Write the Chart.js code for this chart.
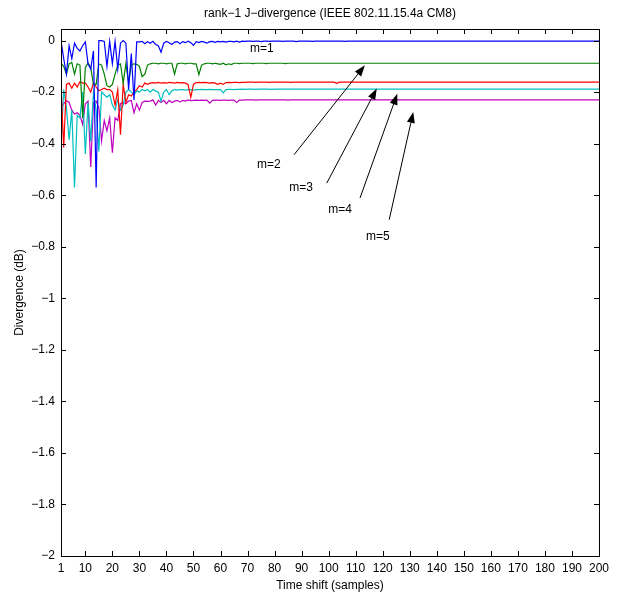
<!DOCTYPE html>
<html>
<head>
<meta charset="utf-8">
<title>rank-1 J-divergence</title>
<script src="https://cdn.jsdelivr.net/npm/chart.js@4.4.1/dist/chart.umd.min.js"></script>
<style>
  html, body { margin: 0; padding: 0; background: #fff; }
  canvas { display: block; }
</style>
</head>
<body>
<canvas id="divChart" width="619" height="600"></canvas>
<script>
// time shift in samples, one point per shift
const shifts = Array.from({ length: 200 }, (_, i) => i + 1);
const xTicks = [1, 10, 20, 30, 40, 50, 60, 70, 80, 90, 100, 110, 120, 130, 140, 150, 160, 170, 180, 190, 200];
const yTicks = [-2, -1.8, -1.6, -1.4, -1.2, -1, -0.8, -0.6, -0.4, -0.2, 0];

// divergence (dB) for m = 1..5
const m1 = [
  0, -0.07, -0.13, -0.02, -0.07, -0.01, -0.03, -0.04, -0.02, -0.005,
  -0.09, -0.11, -0.04, -0.57, 0, 0, -0.003, -0.1, -0.003, -0.09,
  -0.003, -0.11, -0.01, 0, -0.01, -0.19, -0.05, -0.23, -0.005, -0.005,
  -0.003, -0.012, -0.004, -0.01, -0.003, -0.015, -0.02, -0.045, -0.01, -0.003,
  -0.008, -0.015, -0.006, -0.004, -0.012, -0.004, -0.008, -0.002, -0.008, -0.018,
  -0.004, -0.008, -0.003, -0.006, -0.01, -0.004, -0.003, -0.007, -0.003, -0.005,
  -0.003, -0.006, -0.003, -0.003, -0.005, -0.002, -0.006, -0.002, -0.003, -0.002,
  -0.002, -0.003, -0.002, -0.002, -0.004, -0.002, -0.002, -0.003, -0.002, -0.002,
  -0.002, -0.002, -0.003, -0.002, -0.002, -0.002, -0.002, -0.004, -0.002, -0.002,
  -0.002, -0.002, -0.002, -0.003, -0.002, -0.002, -0.002, -0.002, -0.002, -0.002,
  -0.002, -0.002, -0.002, -0.002, -0.002, -0.003, -0.002, -0.002, -0.002, -0.002,
  -0.002, -0.002, -0.002, -0.002, -0.002, -0.002, -0.002, -0.002, -0.002, -0.002,
  -0.002, -0.002, -0.002, -0.002, -0.002, -0.002, -0.002, -0.002, -0.002, -0.002,
  -0.002, -0.002, -0.002, -0.002, -0.002, -0.002, -0.002, -0.002, -0.002, -0.002,
  -0.002, -0.002, -0.002, -0.002, -0.002, -0.002, -0.002, -0.002, -0.002, -0.002,
  -0.002, -0.002, -0.002, -0.002, -0.002, -0.002, -0.002, -0.002, -0.002, -0.002,
  -0.002, -0.002, -0.002, -0.002, -0.002, -0.002, -0.002, -0.002, -0.002, -0.002,
  -0.002, -0.002, -0.002, -0.002, -0.002, -0.002, -0.002, -0.002, -0.002, -0.002,
  -0.002, -0.002, -0.002, -0.002, -0.002, -0.002, -0.002, -0.002, -0.002, -0.002,
  -0.002, -0.002, -0.002, -0.002, -0.002, -0.002, -0.002, -0.002, -0.002, -0.002
];
const m2 = [
  -0.087, -0.1, -0.13, -0.09, -0.085, -0.13, -0.09, -0.095, -0.3, -0.105,
  -0.087, -0.105, -0.17, -0.17, -0.09, -0.095, -0.13, -0.175, -0.18, -0.17,
  -0.13, -0.095, -0.09, -0.165, -0.09, -0.16, -0.095, -0.09, -0.092, -0.1,
  -0.14, -0.13, -0.095, -0.09, -0.088, -0.088, -0.09, -0.088, -0.088, -0.09,
  -0.088, -0.088, -0.13, -0.09, -0.088, -0.088, -0.09, -0.088, -0.088, -0.09,
  -0.09, -0.132, -0.095, -0.09, -0.088, -0.088, -0.09, -0.088, -0.09, -0.092,
  -0.088, -0.094, -0.09, -0.093, -0.088, -0.088, -0.089, -0.088, -0.088, -0.088,
  -0.088, -0.089, -0.088, -0.088, -0.088, -0.088, -0.089, -0.088, -0.088, -0.088,
  -0.088, -0.088, -0.088, -0.089, -0.088, -0.088, -0.088, -0.088, -0.088, -0.088,
  -0.088, -0.088, -0.088, -0.088, -0.088, -0.088, -0.088, -0.088, -0.088, -0.088,
  -0.088, -0.088, -0.088, -0.088, -0.088, -0.088, -0.088, -0.088, -0.088, -0.088,
  -0.088, -0.088, -0.088, -0.088, -0.088, -0.088, -0.088, -0.088, -0.088, -0.088,
  -0.088, -0.088, -0.088, -0.088, -0.088, -0.088, -0.088, -0.088, -0.088, -0.088,
  -0.088, -0.088, -0.088, -0.088, -0.088, -0.088, -0.088, -0.088, -0.088, -0.088,
  -0.088, -0.088, -0.088, -0.088, -0.088, -0.088, -0.088, -0.088, -0.088, -0.088,
  -0.088, -0.088, -0.088, -0.088, -0.088, -0.088, -0.088, -0.088, -0.088, -0.088,
  -0.088, -0.088, -0.088, -0.088, -0.088, -0.088, -0.088, -0.088, -0.088, -0.088,
  -0.088, -0.088, -0.088, -0.088, -0.088, -0.088, -0.088, -0.088, -0.088, -0.088,
  -0.088, -0.088, -0.088, -0.088, -0.088, -0.088, -0.088, -0.088, -0.088, -0.088,
  -0.088, -0.088, -0.088, -0.088, -0.088, -0.088, -0.088, -0.088, -0.088, -0.088
];
const m3 = [
  -0.17, -0.415, -0.17, -0.165, -0.185, -0.165, -0.18, -0.16, -0.165, -0.165,
  -0.18, -0.2, -0.165, -0.18, -0.195, -0.19, -0.185, -0.19, -0.19, -0.2,
  -0.25, -0.19, -0.365, -0.17, -0.24, -0.21, -0.215, -0.2, -0.19, -0.175,
  -0.18, -0.165, -0.17, -0.165, -0.163, -0.165, -0.162, -0.165, -0.163, -0.165,
  -0.162, -0.163, -0.165, -0.162, -0.164, -0.163, -0.165, -0.17, -0.22, -0.17,
  -0.163, -0.162, -0.163, -0.162, -0.163, -0.165, -0.163, -0.165, -0.17, -0.165,
  -0.17, -0.163, -0.162, -0.163, -0.162, -0.162, -0.163, -0.162, -0.162, -0.161,
  -0.161, -0.161, -0.162, -0.161, -0.161, -0.161, -0.161, -0.162, -0.161, -0.161,
  -0.161, -0.161, -0.161, -0.161, -0.161, -0.162, -0.161, -0.161, -0.161, -0.161,
  -0.161, -0.161, -0.161, -0.161, -0.161, -0.161, -0.161, -0.161, -0.161, -0.161,
  -0.161, -0.161, -0.166, -0.161, -0.161, -0.161, -0.161, -0.161, -0.161, -0.161,
  -0.161, -0.161, -0.161, -0.161, -0.161, -0.161, -0.161, -0.161, -0.161, -0.161,
  -0.161, -0.161, -0.161, -0.161, -0.161, -0.161, -0.161, -0.161, -0.161, -0.161,
  -0.161, -0.161, -0.161, -0.161, -0.161, -0.161, -0.161, -0.161, -0.161, -0.161,
  -0.161, -0.161, -0.161, -0.161, -0.161, -0.161, -0.161, -0.161, -0.161, -0.161,
  -0.161, -0.161, -0.161, -0.161, -0.161, -0.161, -0.161, -0.161, -0.161, -0.161,
  -0.161, -0.161, -0.161, -0.161, -0.161, -0.161, -0.161, -0.161, -0.161, -0.161,
  -0.161, -0.161, -0.161, -0.161, -0.161, -0.161, -0.161, -0.161, -0.161, -0.161,
  -0.161, -0.161, -0.161, -0.161, -0.161, -0.161, -0.161, -0.161, -0.161, -0.161,
  -0.161, -0.161, -0.161, -0.161, -0.161, -0.161, -0.161, -0.161, -0.161, -0.161
];
const m4 = [
  -0.42, -0.19, -0.26, -0.385, -0.27, -0.57, -0.29, -0.3, -0.2, -0.44,
  -0.24, -0.39, -0.2, -0.27, -0.43, -0.2, -0.21, -0.22, -0.21, -0.25,
  -0.27, -0.23, -0.27, -0.25, -0.2, -0.19, -0.2, -0.21, -0.195, -0.2,
  -0.19, -0.195, -0.19, -0.2, -0.19, -0.195, -0.2, -0.235, -0.2, -0.19,
  -0.21, -0.195, -0.19, -0.192, -0.19, -0.19, -0.192, -0.19, -0.19, -0.192,
  -0.19, -0.19, -0.189, -0.19, -0.19, -0.189, -0.19, -0.19, -0.19, -0.19,
  -0.203, -0.19, -0.189, -0.189, -0.19, -0.189, -0.189, -0.188, -0.189, -0.188,
  -0.188, -0.188, -0.189, -0.188, -0.188, -0.188, -0.188, -0.188, -0.189, -0.188,
  -0.188, -0.188, -0.188, -0.188, -0.188, -0.188, -0.188, -0.188, -0.188, -0.188,
  -0.188, -0.188, -0.188, -0.188, -0.188, -0.188, -0.188, -0.188, -0.188, -0.188,
  -0.188, -0.188, -0.188, -0.188, -0.188, -0.188, -0.188, -0.188, -0.188, -0.188,
  -0.188, -0.188, -0.188, -0.188, -0.188, -0.188, -0.188, -0.188, -0.188, -0.188,
  -0.188, -0.188, -0.188, -0.188, -0.188, -0.188, -0.188, -0.188, -0.188, -0.188,
  -0.188, -0.188, -0.188, -0.188, -0.188, -0.188, -0.188, -0.188, -0.188, -0.188,
  -0.188, -0.188, -0.188, -0.188, -0.188, -0.188, -0.188, -0.188, -0.188, -0.188,
  -0.188, -0.188, -0.188, -0.188, -0.188, -0.188, -0.188, -0.188, -0.188, -0.188,
  -0.188, -0.188, -0.188, -0.188, -0.188, -0.188, -0.188, -0.188, -0.188, -0.188,
  -0.188, -0.188, -0.188, -0.188, -0.188, -0.188, -0.188, -0.188, -0.188, -0.188,
  -0.188, -0.188, -0.188, -0.188, -0.188, -0.188, -0.188, -0.188, -0.188, -0.188,
  -0.188, -0.188, -0.188, -0.188, -0.188, -0.188, -0.188, -0.188, -0.188, -0.188
];
const m5 = [
  -0.26, -0.245, -0.233, -0.24, -0.27, -0.285, -0.28, -0.29, -0.325, -0.245,
  -0.235, -0.49, -0.24, -0.235, -0.26, -0.39, -0.31, -0.35, -0.3, -0.435,
  -0.3, -0.31, -0.245, -0.24, -0.245, -0.235, -0.232, -0.28, -0.245, -0.27,
  -0.24, -0.235, -0.236, -0.235, -0.23, -0.25, -0.232, -0.24, -0.232, -0.245,
  -0.232, -0.24, -0.235, -0.232, -0.238, -0.232, -0.235, -0.23, -0.233, -0.232,
  -0.231, -0.232, -0.231, -0.232, -0.231, -0.243, -0.232, -0.231, -0.231, -0.232,
  -0.231, -0.231, -0.232, -0.231, -0.231, -0.24, -0.231, -0.231, -0.23, -0.23,
  -0.23, -0.23, -0.231, -0.23, -0.23, -0.23, -0.23, -0.23, -0.23, -0.23,
  -0.23, -0.23, -0.23, -0.23, -0.231, -0.23, -0.23, -0.23, -0.23, -0.23,
  -0.23, -0.23, -0.23, -0.23, -0.23, -0.23, -0.23, -0.23, -0.23, -0.23,
  -0.23, -0.23, -0.23, -0.23, -0.23, -0.23, -0.23, -0.23, -0.23, -0.23,
  -0.23, -0.23, -0.23, -0.23, -0.23, -0.23, -0.23, -0.23, -0.23, -0.23,
  -0.23, -0.23, -0.23, -0.23, -0.23, -0.23, -0.23, -0.23, -0.23, -0.23,
  -0.23, -0.23, -0.23, -0.23, -0.23, -0.23, -0.23, -0.23, -0.23, -0.23,
  -0.23, -0.23, -0.23, -0.23, -0.23, -0.23, -0.23, -0.23, -0.23, -0.23,
  -0.23, -0.23, -0.23, -0.23, -0.23, -0.23, -0.23, -0.23, -0.23, -0.23,
  -0.23, -0.23, -0.23, -0.23, -0.23, -0.23, -0.23, -0.23, -0.23, -0.23,
  -0.23, -0.23, -0.23, -0.23, -0.23, -0.23, -0.23, -0.23, -0.23, -0.23,
  -0.23, -0.23, -0.23, -0.23, -0.23, -0.23, -0.23, -0.23, -0.23, -0.23,
  -0.23, -0.23, -0.23, -0.23, -0.23, -0.23, -0.23, -0.23, -0.23, -0.23
];

const seriesNames = ['m=1', 'm=2', 'm=3', 'm=4', 'm=5'];
const seriesValues = [m1, m2, m3, m4, m5];
const seriesColors = ['#0000ff', '#008000', '#ff0000', '#00bfbf', '#bf00bf'];

// text labels and arrows, in data coordinates
const notes = [
  { text: 'm=1', at: [75.3, -0.031] },
  { text: 'm=2', at: [77.9, -0.482], from: [87.2, -0.443], to: [113.4, -0.096] },
  { text: 'm=3', at: [89.8, -0.571], from: [99.3, -0.553], to: [117.8, -0.186] },
  { text: 'm=4', at: [104.2, -0.656], from: [111.6, -0.611], to: [125.4, -0.206] },
  { text: 'm=5', at: [118.2, -0.761], from: [122.4, -0.695], to: [131.3, -0.277] }
];

const FONT = '"Liberation Sans", Arial, Helvetica, sans-serif';
Chart.defaults.font.family = FONT;
Chart.defaults.font.size = 12;
Chart.defaults.color = '#000';

// box around the axes with inward ticks on all four sides, plus the m= notes
const axesBox = {
  id: 'axesBox',
  afterDraw(chart) {
    const { ctx, chartArea: a, scales: { x, y } } = chart;
    const tick = 5;
    ctx.save();
    ctx.strokeStyle = '#000';
    ctx.lineWidth = 1;
    ctx.strokeRect(a.left + 0.5, a.top + 0.5, a.right - a.left, a.bottom - a.top);
    ctx.beginPath();
    x.ticks.forEach(t => {
      const px = Math.round(x.getPixelForValue(t.value)) + 0.5;
      ctx.moveTo(px, a.bottom); ctx.lineTo(px, a.bottom - tick);
      ctx.moveTo(px, a.top); ctx.lineTo(px, a.top + tick);
    });
    y.ticks.forEach(t => {
      const py = Math.round(y.getPixelForValue(t.value)) + 0.5;
      ctx.moveTo(a.left, py); ctx.lineTo(a.left + tick, py);
      ctx.moveTo(a.right, py); ctx.lineTo(a.right - tick, py);
    });
    ctx.stroke();

    ctx.fillStyle = '#000';
    ctx.font = '12px ' + FONT;
    ctx.textAlign = 'center';
    ctx.textBaseline = 'middle';
    notes.forEach(n => {
      ctx.fillText(n.text, x.getPixelForValue(n.at[0]), y.getPixelForValue(n.at[1]));
      if (!n.from) return;
      const x0 = x.getPixelForValue(n.from[0]), y0 = y.getPixelForValue(n.from[1]);
      const x1 = x.getPixelForValue(n.to[0]), y1 = y.getPixelForValue(n.to[1]);
      const ang = Math.atan2(y1 - y0, x1 - x0);
      const len = 11, half = 4;
      const bx = x1 - len * Math.cos(ang), by = y1 - len * Math.sin(ang);
      ctx.beginPath();
      ctx.moveTo(x0, y0);
      ctx.lineTo(bx, by);
      ctx.stroke();
      ctx.beginPath();
      ctx.moveTo(x1, y1);
      ctx.lineTo(bx + half * Math.sin(ang), by - half * Math.cos(ang));
      ctx.lineTo(bx - half * Math.sin(ang), by + half * Math.cos(ang));
      ctx.closePath();
      ctx.fill();
    });
    ctx.restore();
  }
};

const fmtY = v => (v === 0 ? '0' : '\u2212' + String(Math.round(Math.abs(v) * 10) / 10));

new Chart(document.getElementById('divChart'), {
  type: 'line',
  data: {
    datasets: seriesValues.map((vals, k) => ({
      label: seriesNames[k],
      data: shifts.map((s, i) => ({ x: s, y: vals[i] })),
      borderColor: seriesColors[k],
      borderWidth: 1.2,
      pointRadius: 0,
      tension: 0,
      fill: false
    }))
  },
  options: {
    responsive: false,
    animation: false,
    devicePixelRatio: 1,
    layout: { padding: { top: 0, right: 20, bottom: 0, left: 0 } },
    plugins: {
      legend: { display: false },
      tooltip: { enabled: false },
      title: {
        display: true,
        fullSize: false,
        text: 'rank\u22121 J\u2212divergence (IEEE 802.11.15.4a CM8)',
        color: '#000',
        font: { size: 12, weight: 'normal' },
        padding: { top: 6, bottom: 8.6 }
      }
    },
    scales: {
      x: {
        type: 'linear',
        min: 1,
        max: 200,
        afterBuildTicks: s => { s.ticks = xTicks.map(v => ({ value: v })); },
        afterFit: s => { s.height = 44; },
        grid: { display: false, drawTicks: false },
        border: { display: false },
        ticks: { padding: 5, maxRotation: 0, autoSkip: false, color: '#000' },
        title: { display: true, text: 'Time shift (samples)', color: '#000', padding: { top: 0, bottom: 7 } }
      },
      y: {
        type: 'linear',
        min: -2,
        max: 0.045,
        afterBuildTicks: s => { s.ticks = yTicks.map(v => ({ value: v })); },
        afterFit: s => { s.width = 61; },
        grid: { display: false, drawTicks: false },
        border: { display: false },
        ticks: { padding: 6, autoSkip: false, color: '#000', callback: v => fmtY(v) },
        title: { display: true, text: 'Divergence (dB)', color: '#000', padding: { top: 12, bottom: 0 } }
      }
    }
  },
  plugins: [axesBox]
});
</script>
</body>
</html>
